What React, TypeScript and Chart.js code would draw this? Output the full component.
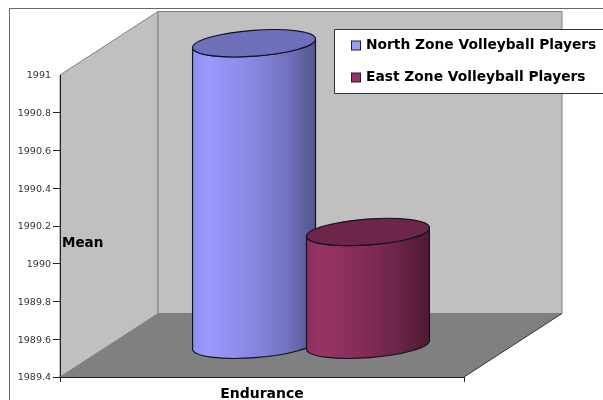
import React, { useEffect, useRef } from "react";
import { Chart, registerables } from "chart.js";

Chart.register(...registerables);

const categories = ["Endurance"];
const seriesNames = ["North Zone Volleyball Players", "East Zone Volleyball Players"];
const northValues = [1991];
const eastValues = [1990];
const yMin = 1989.4;
const yMax = 1991;
const yStep = 0.2;
const yTitle = "Mean";

const FONT = "'DejaVu Sans', sans-serif";
const swatchColors = ["#9999FF", "#993366"];
const bodyStops = [
  ["#8F8FF0", "#9999FF", "#8A8AE6", "#7777C6", "#55558E"],
  ["#8C2E5D", "#993366", "#852C59", "#6E2549", "#4D1A33"],
];
const topColors = ["#6F6FBC", "#6E254A"];

const DEPTH_X = 98;
const DEPTH_Y = 63.5;
const TILT = -0.073;
const MINOR = 13;

const scene = {
  id: "scene",
  beforeDraw(chart: any) {
    const { ctx, chartArea: area } = chart;
    const { left: l, right: r, top: t, bottom: b } = area;
    ctx.save();
    ctx.strokeStyle = "#666666";
    ctx.lineWidth = 1;
    ctx.beginPath();
    ctx.moveTo(9.5, 400);
    ctx.lineTo(9.5, 8.5);
    ctx.lineTo(603, 8.5);
    ctx.stroke();
    ctx.fillStyle = "#C0C0C0";
    ctx.strokeStyle = "#808080";
    ctx.beginPath();
    ctx.moveTo(l, b);
    ctx.lineTo(l, t);
    ctx.lineTo(l + DEPTH_X, t - DEPTH_Y);
    ctx.lineTo(l + DEPTH_X, b - DEPTH_Y);
    ctx.closePath();
    ctx.fill();
    ctx.stroke();
    ctx.beginPath();
    ctx.rect(l + DEPTH_X, t - DEPTH_Y, r - l, b - t);
    ctx.fill();
    ctx.stroke();
    ctx.fillStyle = "#808080";
    ctx.beginPath();
    ctx.moveTo(l, b);
    ctx.lineTo(r, b);
    ctx.lineTo(r + DEPTH_X, b - DEPTH_Y);
    ctx.lineTo(l + DEPTH_X, b - DEPTH_Y);
    ctx.closePath();
    ctx.fill();
    ctx.strokeStyle = "#333333";
    ctx.beginPath();
    ctx.moveTo(r, b);
    ctx.lineTo(r + DEPTH_X, b - DEPTH_Y);
    ctx.stroke();
    ctx.restore();
  },
  afterDatasetsDraw(chart: any) {
    const { ctx } = chart;
    ctx.save();
    chart.data.datasets.forEach((_: any, i: number) => {
      const bar = chart.getDatasetMeta(i).data[0];
      const { x, y, base, width } = bar;
      const cx = x + DEPTH_X / 2;
      const topY = y - DEPTH_Y / 2;
      const botY = base - DEPTH_Y / 2;
      const a = width / 2 / Math.cos(TILT);
      const grad = ctx.createLinearGradient(cx - width / 2, 0, cx + width / 2, 0);
      const stops = bodyStops[i];
      [0, 0.12, 0.45, 0.72, 1].forEach((p, k) => grad.addColorStop(p, stops[k]));
      ctx.beginPath();
      ctx.ellipse(cx, topY, a, MINOR, TILT, Math.PI, 0, true);
      ctx.ellipse(cx, botY, a, MINOR, TILT, 0, Math.PI, false);
      ctx.closePath();
      ctx.fillStyle = grad;
      ctx.fill();
      ctx.strokeStyle = "#111122";
      ctx.lineWidth = 1.2;
      ctx.stroke();
      ctx.beginPath();
      ctx.ellipse(cx, topY, a, MINOR, TILT, 0, Math.PI * 2);
      ctx.fillStyle = topColors[i];
      ctx.fill();
      ctx.stroke();
    });
    ctx.fillStyle = "#000000";
    ctx.font = `bold 13.5px ${FONT}`;
    ctx.textBaseline = "middle";
    ctx.textAlign = "left";
    ctx.fillText(yTitle, 62, 243);

    // legend panel
    ctx.fillStyle = "#FFFFFF";
    ctx.strokeStyle = "#333333";
    ctx.lineWidth = 1;
    ctx.beginPath();
    ctx.rect(334.5, 29.5, 275, 64);
    ctx.fill();
    ctx.stroke();
    ctx.font = `bold 13.8px ${FONT}`;
    seriesNames.forEach((name, i) => {
      const cy = 45.5 + i * 32;
      ctx.fillStyle = swatchColors[i];
      ctx.strokeStyle = "#222222";
      ctx.fillRect(351.5, cy - 4.5, 9, 9);
      ctx.strokeRect(351.5, cy - 4.5, 9, 9);
      ctx.fillStyle = "#000000";
      ctx.fillText(name, 366, cy);
    });
    ctx.restore();
  },
};

export default function App() {
  const ref = useRef<HTMLCanvasElement>(null);
  useEffect(() => {
    const chart = new Chart(ref.current as HTMLCanvasElement, {
      type: "bar",
      data: {
        labels: categories,
        datasets: [
          { label: seriesNames[0], data: northValues, base: yMin, backgroundColor: "transparent" },
          { label: seriesNames[1], data: eastValues, base: yMin, backgroundColor: "transparent" },
        ],
      },
      plugins: [scene],
      options: {
        responsive: false,
        animation: false,
        events: [],
        layout: { padding: { left: 0, right: 139, top: 75, bottom: 0 } },
        datasets: { bar: { categoryPercentage: 0.564, barPercentage: 1.079 } },
        plugins: {
          title: { display: false },
          tooltip: { enabled: false },
          legend: { display: false },
        },
        scales: {
          x: {
            afterFit: (s: any) => {
              s.height = 23;
            },
            border: { color: "#222222", width: 1 },
            grid: {
              drawOnChartArea: false,
              drawTicks: true,
              tickLength: 5,
              tickColor: "#222222",
            },
            ticks: {
              color: "#000000",
              padding: 4,
              font: { family: FONT, size: 14, weight: "bold" },
            },
          },
          y: {
            min: yMin,
            max: yMax,
            afterFit: (s: any) => {
              s.width = 60;
            },
            border: { color: "#222222", width: 1 },
            grid: {
              drawOnChartArea: false,
              tickLength: 7,
              tickColor: (c: any) => (c.tick && c.tick.value >= yMax ? "transparent" : "#222222"),
            },
            ticks: {
              stepSize: yStep,
              color: "#333333",
              padding: 2,
              labelOffset: 1,
              font: { family: FONT, size: 9.5 },
              callback: (v: any) => String(+Number(v).toFixed(1)),
            },
          },
        },
      },
    } as any);
    return () => chart.destroy();
  }, []);
  return (
    <canvas
      ref={ref}
      width={603}
      height={400}
      style={{ position: "absolute", left: 0, top: 0, display: "block" }}
    />
  );
}
